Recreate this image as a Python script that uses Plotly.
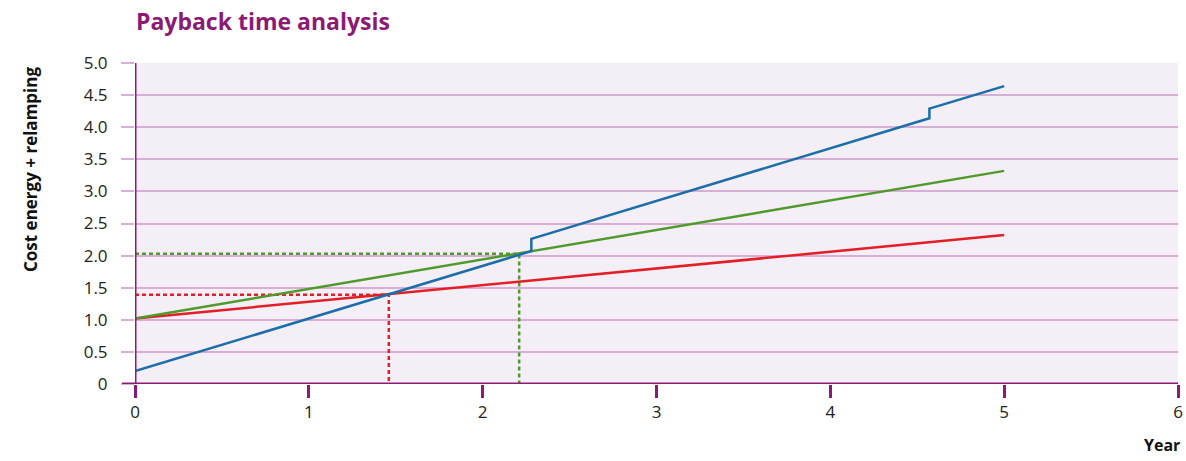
import plotly.graph_objects as go

# Data
blue_x = [0, 2.28, 2.28, 4.57, 4.57, 5]
blue_y = [0.2, 2.07, 2.26, 4.14, 4.29, 4.64]
green_x = [0, 5]
green_y = [1.02, 3.32]
red_x = [0, 5]
red_y = [1.02, 2.32]
red_payback_x = [0, 1.46, 1.46]
red_payback_y = [1.39, 1.39, 0]
green_payback_x = [0, 2.21, 2.21]
green_payback_y = [2.03, 2.03, 0]
y_ticks = [0, 0.5, 1.0, 1.5, 2.0, 2.5, 3.0, 3.5, 4.0, 4.5, 5.0]
y_ticktext = ["0", "0.5", "1.0", "1.5", "2.0", "2.5", "3.0", "3.5", "4.0", "4.5", "5.0"]
x_ticks = [0, 1, 2, 3, 4, 5, 6]

PURPLE = "#8c1a74"
GRID = "#d6aed6"
BLUE = "#1b6ea8"
GREEN = "#4e9a2a"
RED = "#e41e26"
FONT = "Open Sans"
TICKCOL = "#222222"

fig = go.Figure()
fig.add_trace(go.Scatter(x=red_payback_x, y=red_payback_y, mode="lines",
                         line=dict(color=RED, width=2.5, dash="4px,3px"), hoverinfo="skip"))
fig.add_trace(go.Scatter(x=green_payback_x, y=green_payback_y, mode="lines",
                         line=dict(color=GREEN, width=2.5, dash="4px,3px"), hoverinfo="skip"))
fig.add_trace(go.Scatter(x=red_x, y=red_y, mode="lines", line=dict(color=RED, width=2.5)))
fig.add_trace(go.Scatter(x=green_x, y=green_y, mode="lines", line=dict(color=GREEN, width=2.5)))
fig.add_trace(go.Scatter(x=blue_x, y=blue_y, mode="lines", line=dict(color=BLUE, width=2.5)))

fig.update_layout(
    width=1186, height=461,
    margin=dict(l=135, r=8, t=63, b=77),
    paper_bgcolor="white",
    plot_bgcolor="#f4eef6",
    showlegend=False,
    font=dict(family=FONT, size=17, color=TICKCOL),
    title=dict(text="<b>Payback time analysis</b>", x=136 / 1186, xanchor="left",
               y=1 - 22 / 461, yanchor="middle",
               font=dict(family=FONT, size=23, color=PURPLE)),
)
fig.update_xaxes(
    range=[0, 6], tickvals=x_ticks, showgrid=False, zeroline=False, automargin=False,
    showline=False, ticks="outside", ticklen=13, tickwidth=3, tickcolor=PURPLE,
    tickfont=dict(size=17, color=TICKCOL),
)
fig.update_yaxes(
    range=[0, 5], tickvals=y_ticks, ticktext=y_ticktext, automargin=False,
    showgrid=True, gridcolor=GRID, gridwidth=1.5, zeroline=False,
    showline=False, ticks="outside", ticklen=13, tickwidth=1.5, tickcolor=GRID,
    ticklabelstandoff=10,
    tickfont=dict(size=17, color=TICKCOL),
)
# axis lines
fig.add_shape(type="line", xref="paper", yref="y", x0=-13 / 1043, x1=1, y0=0, y1=0,
              line=dict(color=PURPLE, width=3), layer="above")
fig.add_shape(type="line", xref="x", yref="paper", x0=0, x1=0, y0=0, y1=1,
              line=dict(color=PURPLE, width=3), layer="above")
fig.add_annotation(text="<b>Cost energy + relamping</b>", xref="paper", yref="paper",
                   x=-105 / 1043, y=(384 - 170) / 321, textangle=-90, showarrow=False,
                   xanchor="center", yanchor="middle",
                   font=dict(family=FONT, size=17, color="#111111"))
fig.add_annotation(text="<b>Year</b>", xref="paper", yref="paper",
                   x=1 + 4 / 1043, y=-(445 - 384) / 321, showarrow=False,
                   xanchor="right", yanchor="middle",
                   font=dict(family=FONT, size=16, color="#111111"))

fig.write_html("out.html", config={"displayModeBar": False},
               post_script="document.body.style.margin='0';document.body.style.overflow='hidden';")
